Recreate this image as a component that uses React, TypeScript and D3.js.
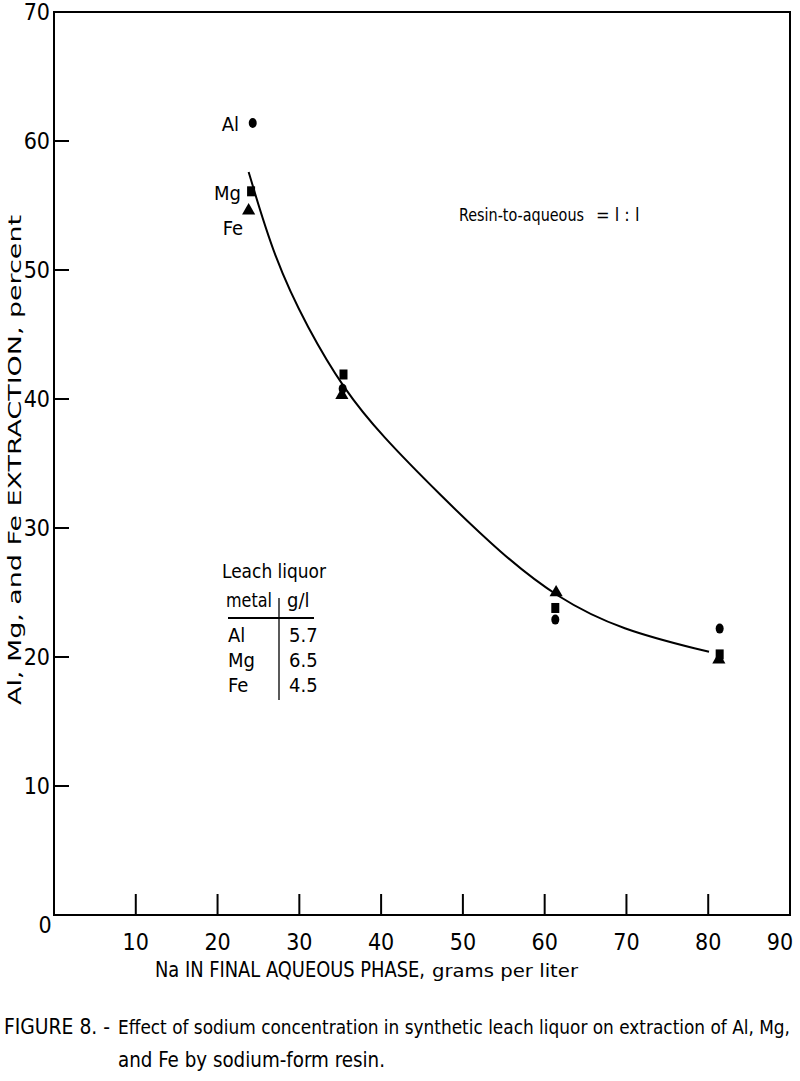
import React from "react";
import * as d3 from "d3";

const xTicks = [10, 20, 30, 40, 50, 60, 70, 80];
const xTickLabels = ["0", "10", "20", "30", "40", "50", "60", "70", "80", "90"];
const yTicks = [10, 20, 30, 40, 50, 60];
const yTickLabels = [10, 20, 30, 40, 50, 60, 70];

const alPoints: [number, number][] = [[24.3, 61.4], [35.3, 40.8], [61.3, 22.9], [81.4, 22.2]];
const mgPoints: [number, number][] = [[24.1, 56.1], [35.4, 41.9], [61.3, 23.8], [81.4, 20.2]];
const fePoints: [number, number][] = [[23.8, 54.6], [35.2, 40.3], [61.4, 25.0], [81.3, 19.8]];

const curvePoints: [number, number][] = [
  [23.8, 57.6], [27.0, 50.8], [31.0, 45.5], [35.5, 40.7], [40.0, 37.2],
  [47.3, 32.5], [54.7, 28.0], [61.5, 24.6], [69.3, 22.1], [80.1, 20.4],
];

const tableRows = [["Al", "5.7"], ["Mg", "6.5"], ["Fe", "4.5"]];

const FONT = "'DejaVu Sans Condensed', 'Liberation Sans Narrow', 'Liberation Sans', sans-serif";

export default function App() {
  const W = 800, H = 1081;
  const x = d3.scaleLinear().domain([0, 90]).range([54, 790]);
  const y = d3.scaleLinear().domain([0, 70]).range([915, 12]);
  const line = d3.line<[number, number]>().x(d => x(d[0])).y(d => y(d[1])).curve(d3.curveBasis);
  const tri = d3.symbol().type(d3.symbolTriangle).size(75)();

  return (
    <svg width={W} height={H} style={{ position: "absolute", left: 0, top: 0, background: "#fff" }}>
      <rect x={0} y={0} width={W} height={H} fill="#fff" />
      {/* frame */}
      <rect x={x(0)} y={y(70)} width={x(90) - x(0)} height={y(0) - y(70)} fill="none" stroke="#000" strokeWidth={2} />
      {/* y ticks */}
      {yTicks.map(t => (
        <line key={"yt" + t} x1={x(0)} x2={x(0) + 15} y1={y(t)} y2={y(t)} stroke="#000" strokeWidth={2} />
      ))}
      {yTickLabels.map(t => (
        <text key={"yl" + t} x={x(0) - 4} y={y(t) + 8} fontSize={23} fontFamily={FONT} textAnchor="end">{t}</text>
      ))}
      {/* x ticks */}
      {xTicks.map(t => (
        <line key={"xt" + t} x1={x(t)} x2={x(t)} y1={y(0)} y2={y(0) - 21} stroke="#000" strokeWidth={2} />
      ))}
      {xTickLabels.map((l, i) => (
        <text key={"xl" + l} x={i === 0 ? 45 : x(i * 10) - (i === 9 ? 10 : 0)} y={i === 0 ? 933 : 950} fontSize={23} fontFamily={FONT} textAnchor="middle">{l}</text>
      ))}
      {/* curve */}
      <path d={line(curvePoints) || ""} fill="none" stroke="#000" strokeWidth={2} />
      {/* markers */}
      {alPoints.map((p, i) => (
        <ellipse key={"al" + i} cx={x(p[0])} cy={y(p[1])} rx={4} ry={5} fill="#000" />
      ))}
      {mgPoints.map((p, i) => (
        <rect key={"mg" + i} x={x(p[0]) - 4} y={y(p[1]) - 5} width={8} height={10} fill="#000" />
      ))}
      {fePoints.map((p, i) => (
        <path key={"fe" + i} d={tri || ""} transform={`translate(${x(p[0])},${y(p[1])})`} fill="#000" />
      ))}
      {/* point labels */}
      <text x={239} y={131} fontSize={20} fontFamily={FONT} textAnchor="end">Al</text>
      <text x={241} y={200} fontSize={20} fontFamily={FONT} textAnchor="end">Mg</text>
      <text x={243} y={235} fontSize={20} fontFamily={FONT} textAnchor="end">Fe</text>
      {/* resin ratio note */}
      <text x={459} y={221} fontSize={17} fontFamily={FONT} textLength={125} lengthAdjust="spacingAndGlyphs">Resin-to-aqueous</text>
      <text x={596} y={221} fontSize={18} fontFamily={FONT}>= l : l</text>
      {/* table */}
      <text x={222} y={578} fontSize={20} fontFamily={FONT} textLength={104} lengthAdjust="spacingAndGlyphs">Leach liquor</text>
      <text x={226} y={607} fontSize={20} fontFamily={FONT} textLength={46} lengthAdjust="spacingAndGlyphs">metal</text>
      <text x={287} y={607} fontSize={20} fontFamily={FONT}>g/l</text>
      <line x1={228} x2={314} y1={618} y2={618} stroke="#000" strokeWidth={2} />
      <line x1={279} x2={279} y1={598} y2={700} stroke="#000" strokeWidth={1.3} />
      {tableRows.map((r, i) => (
        <g key={"row" + i}>
          <text x={228} y={642 + i * 25} fontSize={20} fontFamily={FONT}>{r[0]}</text>
          <text x={289} y={642 + i * 25} fontSize={20} fontFamily={FONT}>{r[1]}</text>
        </g>
      ))}
      {/* y axis title */}
      <text transform="translate(21,705) rotate(-90)" fontSize={17} fontFamily="'DejaVu Sans', sans-serif" textLength={490} lengthAdjust="spacingAndGlyphs">Al, Mg, and Fe EXTRACTION, percent</text>
      {/* x axis title */}
      <text x={155} y={977} fontSize={21} fontFamily={FONT} textLength={270} lengthAdjust="spacingAndGlyphs">Na IN FINAL AQUEOUS PHASE,</text>
      <text x={432} y={977} fontSize={18} fontFamily={FONT} textLength={146} lengthAdjust="spacingAndGlyphs">grams per liter</text>
      {/* caption */}
      <text x={4} y={1034} fontSize={22} fontFamily={FONT} textLength={106} lengthAdjust="spacingAndGlyphs">FIGURE 8. -</text>
      <text x={118} y={1034} fontSize={19} fontFamily={FONT} textLength={672} lengthAdjust="spacingAndGlyphs">Effect of sodium concentration in synthetic leach liquor on extraction of Al, Mg,</text>
      <text x={118} y={1067} fontSize={21} fontFamily={FONT} textLength={267} lengthAdjust="spacingAndGlyphs">and Fe by sodium-form resin.</text>
    </svg>
  );
}
